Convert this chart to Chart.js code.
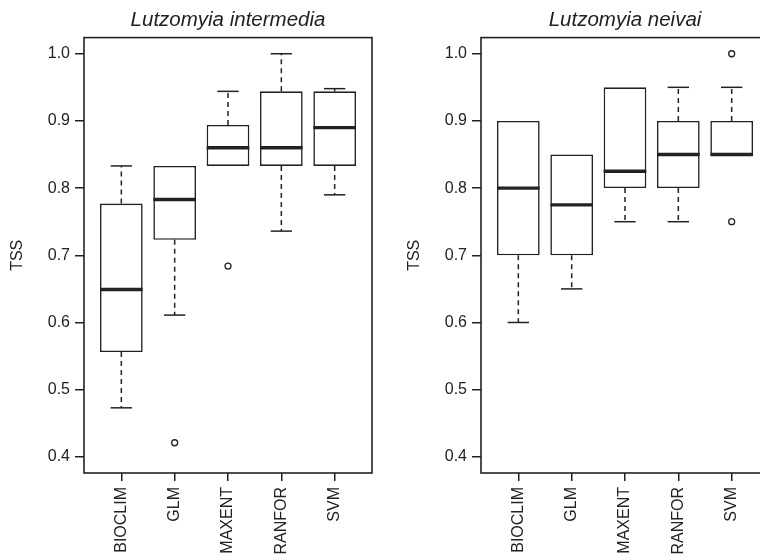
<!DOCTYPE html>
<html>
<head>
<meta charset="utf-8">
<script src="https://cdn.jsdelivr.net/npm/chart.js@4"></script>
<style>
  body { margin: 0; background: #fff; }
  #wrap { position: relative; width: 760px; height: 560px; overflow: hidden; }
  canvas { position: absolute; top: 0; }
</style>
</head>
<body>
<div id="wrap">
  <canvas id="left" width="380" height="560" style="left:0"></canvas>
  <canvas id="right" width="380" height="560" style="left:397px"></canvas>
</div>
<script>
const methods = ['BIOCLIM', 'GLM', 'MAXENT', 'RANFOR', 'SVM'];
const yTicks = [0.4, 0.5, 0.6, 0.7, 0.8, 0.9, 1.0];

// Lutzomyia intermedia
const loInter = [0.473, 0.611, 0.833, 0.736, 0.790];
const q1Inter = [0.556, 0.723, 0.833, 0.833, 0.833];
const medInter = [0.649, 0.783, 0.860, 0.860, 0.890];
const q3Inter = [0.777, 0.833, 0.894, 0.944, 0.944];
const hiInter = [0.833, 0.833, 0.944, 1.000, 0.948];
const outCatInter = [2, 3];
const outValInter = [0.421, 0.684];

// Lutzomyia neivai
const loNeivai = [0.60, 0.65, 0.75, 0.75, 0.85];
const q1Neivai = [0.70, 0.70, 0.80, 0.80, 0.85];
const medNeivai = [0.80, 0.775, 0.825, 0.85, 0.85];
const q3Neivai = [0.90, 0.85, 0.95, 0.90, 0.90];
const hiNeivai = [0.90, 0.85, 0.95, 0.95, 0.95];
const outCatNeivai = [5, 5];
const outValNeivai = [1.0, 0.75];

const font = "'Liberation Sans', Arial, sans-serif";
const ink = '#222';

// whiskers, caps, medians and the frame, placed through the chart's scales
const boxExtras = {
  id: 'boxExtras',
  afterDatasetsDraw(chart, args, opts) {
    const { ctx, chartArea: a } = chart;
    const xs = chart.scales.x, ys = chart.scales.y;
    const half = xs.getPixelForValue(1.4) - xs.getPixelForValue(1);
    const cap = xs.getPixelForValue(1.2) - xs.getPixelForValue(1);
    ctx.save();
    ctx.strokeStyle = ink;
    opts.med.forEach((m, i) => {
      const x = xs.getPixelForValue(i + 1);
      ctx.lineWidth = 1.5;
      ctx.setLineDash([5, 4]);
      [[opts.q3[i], opts.hi[i]], [opts.q1[i], opts.lo[i]]].forEach(([from, to]) => {
        if (Math.abs(from - to) < 1e-6) return;
        ctx.beginPath();
        ctx.moveTo(x, ys.getPixelForValue(from));
        ctx.lineTo(x, ys.getPixelForValue(to));
        ctx.stroke();
        ctx.setLineDash([]);
        ctx.beginPath();
        ctx.moveTo(x - cap, ys.getPixelForValue(to));
        ctx.lineTo(x + cap, ys.getPixelForValue(to));
        ctx.stroke();
        ctx.setLineDash([5, 4]);
      });
      ctx.setLineDash([]);
      ctx.lineWidth = 3.4;
      ctx.beginPath();
      ctx.moveTo(x - half, ys.getPixelForValue(m));
      ctx.lineTo(x + half, ys.getPixelForValue(m));
      ctx.stroke();
    });
    ctx.lineWidth = 1.6;
    ctx.strokeRect(a.left, a.top, a.right - a.left, a.bottom - a.top);
    ctx.restore();
  }
};

function drawPanel(id, title, lo, q1, med, q3, hi, outCat, outVal) {
  const ctx = document.getElementById(id).getContext('2d');
  new Chart(ctx, {
    data: {
      datasets: [{
        type: 'bar',
        data: methods.map((m, i) => ({ x: i + 1, y: [q1[i], q3[i]] })),
        backgroundColor: '#fff',
        borderColor: ink,
        borderWidth: 1.6,
        borderSkipped: false,
        barPercentage: 0.8,
        categoryPercentage: 1.0
      }, {
        type: 'scatter',
        data: outCat.map((c, i) => ({ x: c, y: outVal[i] })),
        pointRadius: 3,
        pointBorderWidth: 1.3,
        pointBackgroundColor: '#fff',
        pointBorderColor: ink
      }]
    },
    options: {
      responsive: false,
      animation: false,
      layout: { padding: { right: 8 } },
      plugins: {
        legend: { display: false },
        tooltip: { enabled: false },
        title: {
          display: true,
          fullSize: false,
          text: title,
          color: ink,
          font: { family: font, size: 20.5, style: 'italic', weight: 'normal' },
          padding: { top: 8, bottom: 5 }
        },
        boxExtras: { lo, q1, med, q3, hi }
      },
      scales: {
        x: {
          type: 'linear',
          min: 0.3,
          max: 5.7,
          offset: false,
          afterBuildTicks: s => { s.ticks = methods.map((m, i) => ({ value: i + 1 })); },
          afterFit: s => { s.height = 87; },
          grid: { offset: false, drawOnChartArea: false, drawTicks: true, tickLength: 8, color: ink, lineWidth: 1.5 },
          border: { display: false },
          ticks: {
            callback: v => methods[v - 1],
            autoSkip: false,
            minRotation: 90,
            maxRotation: 90,
            padding: 6,
            color: ink,
            font: { family: font, size: 16 }
          }
        },
        y: {
          min: 0.376,
          max: 1.024,
          afterBuildTicks: s => { s.ticks = yTicks.map(v => ({ value: v })); },
          afterFit: s => { s.width = 84; },
          grid: { drawOnChartArea: false, drawTicks: true, tickLength: 9, color: ink, lineWidth: 1.5 },
          border: { display: false },
          title: {
            display: true,
            text: 'TSS',
            color: ink,
            font: { family: font, size: 16 },
            padding: { top: 8, bottom: 0 }
          },
          ticks: {
            callback: v => v.toFixed(1),
            padding: 5,
            color: ink,
            font: { family: font, size: 16 }
          }
        }
      }
    },
    plugins: [boxExtras]
  });
}

drawPanel('left', 'Lutzomyia intermedia', loInter, q1Inter, medInter, q3Inter, hiInter, outCatInter, outValInter);
drawPanel('right', 'Lutzomyia neivai', loNeivai, q1Neivai, medNeivai, q3Neivai, hiNeivai, outCatNeivai, outValNeivai);
</script>
</body>
</html>
